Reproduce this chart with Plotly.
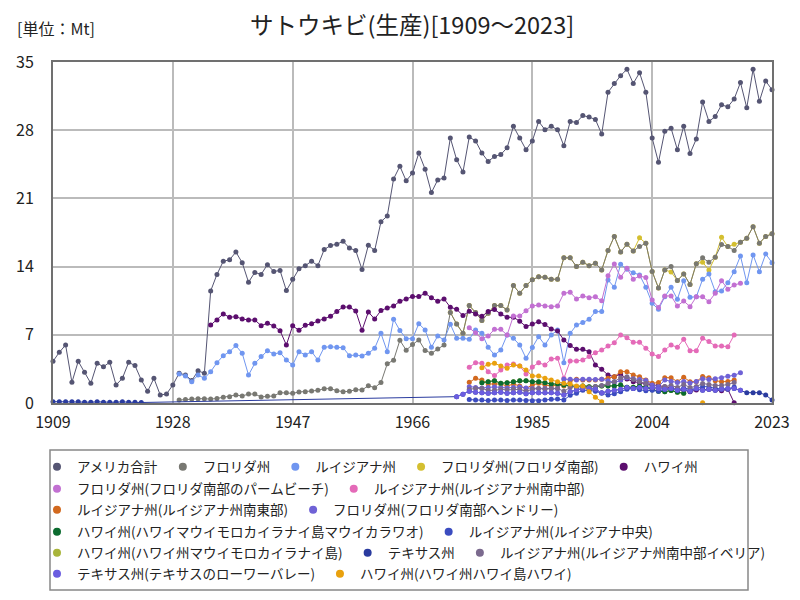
import plotly.graph_objects as go

# ---------------- data (Mt) ----------------
total_start = 1909
total = [4.28, 5.2, 5.96, 2.12, 4.28, 3.15, 2.02, 4.08, 3.73, 4.18,
         1.85, 2.53, 4.18, 3.84, 2.36, 1.2, 2.53, 0.82, 0.92, 1.85,
         3.05, 2.88, 2.3, 3.3, 3.05, 11.5, 13.2, 14.55, 14.7, 15.5,
         14.4, 12.4, 13.4, 13.2, 14.2, 13.5, 13.6, 11.54, 12.7, 13.77,
         14.1, 14.55, 14.1, 15.75, 16.16, 16.3, 16.6, 15.9, 15.65, 13.7,
         16.2, 15.65, 18.6, 19.2, 23.0, 24.3, 22.8, 23.6, 25.65, 24.0,
         21.6, 22.9, 23.1, 27.2, 24.97, 23.7, 27.3, 26.9, 25.65, 24.8,
         25.3, 25.5, 26.2, 28.4, 27.2, 26.0, 26.9, 28.9, 28.05, 28.4,
         28.05, 26.4, 28.9, 28.8, 29.5, 29.35, 29.1, 27.6, 31.9, 32.8,
         33.6, 34.25, 32.8, 33.9, 31.9, 27.2, 24.7, 27.9, 28.2, 26.0,
         28.4, 25.6, 27.1, 30.9, 28.9, 29.4, 30.6, 30.4, 31.2, 32.9,
         30.3, 34.25, 30.96, 33.05, 32.15]

florida_start = 1929
florida = [0.3, 0.37, 0.4, 0.44, 0.44, 0.4, 0.47, 0.58, 0.65, 0.82,
           0.72, 0.92, 0.92, 0.62, 0.68, 0.72, 1.06, 1.06, 0.99, 1.13,
           1.16, 1.23, 1.3, 1.47, 1.47, 1.27, 1.16, 1.2, 1.37, 1.33,
           1.78, 1.57, 2.1, 4.03, 4.4, 6.43, 5.42, 6.0, 6.47, 5.4,
           5.1, 5.55, 5.96, 9.3, 8.1, 7.16, 10.0, 9.3, 8.46, 9.2,
           10.0, 10.0, 9.55, 12.05, 11.27, 12.05, 12.65, 12.95, 12.9, 12.7,
           12.7, 14.9, 14.9, 14.0, 14.45, 14.1, 14.35, 13.66, 15.65, 17.1,
           15.5, 16.3, 15.6, 16.06, 16.4, 13.5, 11.8, 13.66, 14.0, 12.57,
           13.25, 12.16, 14.3, 14.9, 14.45, 14.97, 16.27, 16.06, 15.65, 16.5,
           16.9, 18.1, 16.4, 17.1, 17.36]

louisiana_start = 1929
louisiana = [2.98, 2.77, 2.19, 2.87, 2.53, 3.22, 4.14, 4.86, 5.27, 5.89,
             5.1, 2.87, 4.07, 4.76, 5.37, 5.03, 5.17, 4.41, 3.9, 5.27,
             4.93, 5.27, 4.41, 5.72, 5.78, 5.72, 5.68, 4.86, 4.93, 4.83,
             5.1, 5.61, 7.15, 5.27, 8.59, 7.45, 6.6, 6.6, 8.14, 7.5,
             5.72, 6.88, 6.47, 8.08, 6.64, 6.64, 6.54, 7.5, 7.15, 5.72,
             4.93, 5.44, 6.98, 6.64, 5.95, 4.59, 5.7, 6.81, 5.95, 6.98,
             7.5, 4.14, 7.15, 8.0, 8.25, 8.59, 9.38, 9.38, 12.63, 11.87,
             14.23, 13.72, 13.38, 13.14, 11.87, 10.23, 9.62, 10.9, 11.87, 10.65,
             12.56, 10.85, 10.9, 12.7, 13.24, 11.43, 11.5, 12.35, 13.48, 15.09,
             12.35, 15.2, 13.48, 15.3, 14.4]

fl_south_start = 1972
fl_south = [9.3, 8.1, 7.16, 10.0, 9.3, 8.46, 9.2,
            10.0, 10.0, 9.55, 12.05, 11.27, 12.05, 12.65, 12.95, 12.9, 12.7,
            12.7, 14.9, 14.9, 14.0, 14.45, 14.1, 14.35, 13.66, 15.65, 17.1,
            15.5, 16.3, 15.6, 16.95, 16.4, 13.5, 11.8, 13.66, 13.45, 12.57,
            13.25, 12.16, 14.3, 14.45, 13.65, 14.97, 17.0, 16.06, 16.3, 16.5,
            16.9, 18.1, 16.4, 17.1, 17.36]

hawaii_start = 1934
hawaii = [8.0, 8.52, 9.14, 8.8, 8.86, 8.62, 8.52, 8.52, 7.94, 8.18,
          7.9, 7.42, 5.95, 7.92, 7.46, 7.97, 8.14, 8.41, 8.62, 8.9,
          9.4, 9.85, 9.85, 9.45, 7.46, 9.34, 8.62, 9.5, 9.76, 9.95,
          10.45, 10.68, 10.92, 10.92, 11.27, 10.79, 10.45, 10.68, 9.83, 9.62,
          8.97, 9.42, 9.14, 8.9, 9.38, 9.59, 9.14, 8.8, 8.8, 8.4,
          7.84, 8.1, 8.35, 8.06, 7.6, 7.39, 6.47, 5.89, 5.51, 5.51,
          5.27, 3.9, 3.46, 2.87, 2.7, 2.98, 2.46, 2.19, 2.09, 1.95,
          1.9, 1.8, 1.68, 1.57, 1.33, 1.33, 1.16, 1.33, 1.4, 1.4,
          1.33, 1.27, 1.4, 0.03]

palm_beach_start = 1975
palm_beach = [7.73, 7.2, 6.6, 6.88, 7.56, 7.56, 6.98, 8.93, 8.93, 9.48,
              9.96, 10.06, 9.96, 9.89, 9.96, 11.26, 11.37, 10.68, 10.99, 10.81,
              10.9, 10.5, 13.07, 14.27, 12.9, 13.83, 12.7, 13.04, 12.87, 10.57,
              9.8, 10.99, 10.99, 9.96, 10.47, 9.89, 10.9, 10.9, 10.4, 11.26,
              12.56, 11.67, 12.11, 12.29]

la_south_central_start = 1975
la_south_central = [3.66, 4.14, 4.07, 3.22, 2.81, 3.39, 3.9, 4.0, 3.8, 2.98,
                    3.7, 4.14, 3.9, 4.52, 4.59, 2.53, 4.31, 4.31, 4.41, 4.76,
                    5.17, 5.44, 5.85, 6.19, 6.98, 6.71, 6.23, 6.23, 5.61, 5.03,
                    4.76, 5.44, 5.95, 5.72, 6.54, 5.37, 5.37, 6.64, 6.3, 5.85,
                    5.85, 5.78, 6.98]

la_south_east_start = 1975
la_south_east = [2.12, 2.53, 2.36, 1.95, 1.95, 1.95, 1.75, 1.95, 1.75, 1.5,
                 1.85, 2.02, 1.85, 1.75, 1.85, 1.75, 2.29, 2.43, 2.36, 2.36,
                 2.36, 2.43, 2.53, 2.7, 3.22, 3.22, 2.87, 2.7, 2.36, 2.02,
                 2.1, 2.6, 2.6, 2.19, 2.65, 2.19, 2.19, 2.72, 2.6, 2.29,
                 2.19, 2.2, 2.36]

hendry_start = 1975
hendry = [1.68, 1.6, 1.55, 1.6, 1.65, 1.6, 1.55, 1.6, 1.65, 1.55,
          1.5, 1.5, 1.5, 1.45, 1.45, 2.43, 2.43, 2.36, 2.43, 2.43,
          2.4, 2.43, 2.29, 2.1, 2.3, 2.6, 2.5, 2.4, 2.3, 1.85,
          1.68, 2.36, 2.2, 2.1, 2.2, 2.05, 2.2, 2.5, 2.4, 2.5,
          2.6, 2.75, 2.85, 3.1]

maui_kahului_start = 1977
maui_kahului = [2.09, 2.19, 2.29, 2.02, 2.09, 2.19, 2.29, 2.29, 2.19, 2.19,
                2.09, 1.95, 1.95, 1.85, 1.75, 1.68, 1.75, 1.68, 1.68, 1.75,
                1.75, 1.75, 1.85, 1.61, 1.61, 1.75, 1.61, 1.37, 1.2, 1.16,
                1.28, 1.1, 1.0]

la_central_start = 1975
la_central = [0.35, 0.3, 0.3, 0.25, 0.3, 0.3, 0.25, 0.3, 0.3, 0.25,
              0.24, 0.24, 0.3, 0.38, 0.4, 0.3, 0.8, 1.0, 1.3, 1.3,
              1.2, 1.0, 0.82, 0.95, 1.16, 1.4, 1.5, 1.35, 1.25, 1.3,
              1.2, 1.4, 1.5, 1.35, 1.55, 1.4, 1.45, 1.7, 1.65, 1.5,
              1.45, 1.4, 1.65]

maui_start = 1977
maui = [2.09, 2.19, 2.29, 2.02, 2.09, 2.19, 2.29, 2.29, 2.19, 2.19,
        2.09, 1.95, 1.95, 1.85, 1.75, 1.68, 1.75, 1.68, 1.68, 1.75,
        1.75, 1.75, 1.85, 1.61, 1.61, 1.75, 1.61, 1.37, 1.2, 1.16,
        1.28, 1.1, 1.0]

texas_years = [1909, 1910, 1911, 1912, 1913, 1914, 1915, 1916, 1917, 1918,
               1919, 1920, 1921, 1922, 1923] + list(range(1973, 2024))
texas = [0.14, 0.12, 0.14, 0.14, 0.12, 0.08, 0.08, 0.12, 0.08, 0.08,
         0.08, 0.12, 0.08, 0.08, 0.05,
         0.65, 0.9,
         1.2, 1.1, 1.05, 1.0, 1.05, 1.1, 1.0, 1.05, 1.1, 0.95,
         1.06, 1.06, 1.06, 1.06, 1.0, 0.82,
         1.16, 1.33, 1.5, 1.5, 1.4, 1.06, 1.2, 1.3, 1.4, 1.6,
         1.5, 1.6, 1.5, 1.6, 1.5, 1.4, 1.5, 1.3, 1.4, 1.2,
         1.5, 1.3, 1.4, 1.3, 1.4, 1.5, 1.5, 1.3, 1.06, 1.06,
         1.06, 0.82, 0.31]

iberia_start = 1975
iberia = [1.4, 1.5, 1.5, 1.3, 1.3, 1.4, 1.35, 1.4, 1.4, 1.2,
          1.4, 1.5, 1.4, 1.5, 1.5, 1.2, 1.6, 1.7, 1.6, 1.6,
          1.7, 1.8, 2.0, 2.2, 2.6, 2.7, 2.4, 2.2, 2.0, 1.6,
          1.5, 1.7, 1.8, 1.6, 1.9, 1.6, 1.7, 2.0, 1.9, 1.8,
          1.8, 1.9, 2.1]

lower_valley_start = 1973
lower_valley = [0.65, 0.9,
                1.2, 1.1, 1.05, 1.0, 1.05, 1.1, 1.0, 1.05, 1.1, 0.95,
                1.06, 1.06, 1.06, 1.06, 1.0, 0.82,
                1.16, 1.33, 1.5, 1.5, 1.4, 1.06, 1.2, 1.3, 1.4, 1.6,
                1.5, 1.6, 1.5, 1.6, 1.5, 1.4, 1.5, 1.3, 1.4, 1.2,
                1.5, 1.3, 1.4, 1.3, 1.4, 1.5, 1.5, 1.3]

# None = no data (line break)
hawaii_island_years = list(range(1977, 1997)) + [2004, 2012]
hawaii_island = [3.63, 3.97, 4.07, 3.8, 3.56, 3.9, 3.8, 3.39, 2.77, 2.77,
                 2.53, 2.36, 2.19, 2.02, 1.95, 1.75, 1.75, 1.16, 0.58, 0.14,
                 None, 0.03]

x_ticks = [1909, 1928, 1947, 1966, 1985, 2004, 2023]
y_ticks = [0, 7, 14, 21, 28, 35]


def yrs(start, vals):
    return list(range(start, start + len(vals)))


# name, x, y, color, legend row
series = [
    ("アメリカ合計", yrs(total_start, total), total, "#555573", 1),
    ("フロリダ州", yrs(florida_start, florida), florida, "#787872", 1),
    ("ルイジアナ州", yrs(louisiana_start, louisiana), louisiana, "#7096f0", 1),
    ("フロリダ州(フロリダ南部)", yrs(fl_south_start, fl_south), fl_south, "#d4bf30", 1),
    ("ハワイ州", yrs(hawaii_start, hawaii), hawaii, "#5c0e6e", 1),
    ("フロリダ州(フロリダ南部のパームビーチ)", yrs(palm_beach_start, palm_beach), palm_beach, "#c270d2", 2),
    ("ルイジアナ州(ルイジアナ州南中部)", yrs(la_south_central_start, la_south_central), la_south_central, "#e46ab8", 2),
    ("ルイジアナ州(ルイジアナ州南東部)", yrs(la_south_east_start, la_south_east), la_south_east, "#d2691e", 3),
    ("フロリダ州(フロリダ南部ヘンドリー)", yrs(hendry_start, hendry), hendry, "#6f62d6", 3),
    ("ハワイ州(ハワイマウイモロカイラナイ島マウイカラワオ)", yrs(maui_kahului_start, maui_kahului), maui_kahului, "#0b6b2f", 4),
    ("ルイジアナ州(ルイジアナ中央)", yrs(la_central_start, la_central), la_central, "#3b4cc0", 4),
    ("ハワイ州(ハワイ州マウイモロカイラナイ島)", yrs(maui_start, maui), maui, "#a9b53b", 5),
    ("テキサス州", texas_years, texas, "#2a3b9f", 5),
    ("ルイジアナ州(ルイジアナ州南中部イベリア)", yrs(iberia_start, iberia), iberia, "#7b6a8e", 5),
    ("テキサス州(テキサスのローワーバレー)", yrs(lower_valley_start, lower_valley), lower_valley, "#6b5de0", 6),
    ("ハワイ州(ハワイ州ハワイ島ハワイ)", hawaii_island_years, hawaii_island, "#e9a10e", 6),
]

# drawing order (bottom first); Florida south under Florida, Maui under Maui-Kahului
draw_order = [0, 3, 1, 2, 4, 5, 6, 7, 8, 11, 9, 10, 12, 13, 14, 15]

FONT = "Noto Sans CJK JP, Noto Sans, sans-serif"

fig = go.Figure()
for i in draw_order:
    name, x, y, color, row = series[i]
    fig.add_trace(go.Scatter(
        x=x, y=y, mode="lines+markers", name=name, legendgroup=name,
        showlegend=False, cliponaxis=False, connectgaps=False,
        line=dict(color=color, width=1),
        marker=dict(color=color, size=5),
    ))

# legend entries (dot only), one legend per row
for i, (name, x, y, color, row) in enumerate(series):
    fig.add_trace(go.Scatter(
        x=[None], y=[None], mode="markers", name=name, legendgroup=name,
        showlegend=True, legend="legend" if row == 1 else f"legend{row}",
        marker=dict(color=color, size=8),
    ))

# page body has an 8px margin: layout coords = screen coords - 8
OFF = 8
L, R, T, B = 53 - OFF, 772 - OFF, 62 - OFF, 403 - OFF
W, H = R - L, B - T


def px_x(p):  # screen px -> paper
    return (p - OFF - L) / W


def px_y(p):
    return (B - (p - OFF)) / H


row_y = [467, 489, 510, 532, 553, 574]
legends = {}
for r in range(1, 7):
    key = "legend" if r == 1 else f"legend{r}"
    legends[key] = dict(
        orientation="h", x=px_x(37), xanchor="left",
        y=px_y(row_y[r - 1]), yanchor="middle",
        bgcolor="rgba(0,0,0,0)", borderwidth=0,
        font=dict(family=FONT, size=13.5, color="#222"),
        itemwidth=30, tracegroupgap=0,
    )

fig.update_layout(
    width=800, height=600,
    margin=dict(l=L, r=800 - R, t=T, b=600 - B, autoexpand=False),
    paper_bgcolor="white", plot_bgcolor="white",
    font=dict(family=FONT, color="#222"),
    showlegend=True,
    **legends,
    annotations=[
        dict(text="サトウキビ(生産)[1909～2023]", x=px_x(412), y=px_y(24),
             xref="paper", yref="paper", xanchor="center", yanchor="middle",
             showarrow=False, font=dict(family=FONT, size=23.5, color="#222")),
        dict(text="[単位：Mt]", x=px_x(15), y=px_y(28),
             xref="paper", yref="paper", xanchor="left", yanchor="middle",
             showarrow=False, font=dict(family=FONT, size=16, color="#222")),
    ],
    shapes=[
        dict(type="rect", xref="paper", yref="paper",
             x0=px_x(50), x1=px_x(748), y0=px_y(590), y1=px_y(450),
             line=dict(color="#888888", width=1.5), fillcolor="rgba(0,0,0,0)"),
    ],
)

fig.update_xaxes(
    range=[1909, 2023], tickmode="array", tickvals=x_ticks,
    ticktext=[str(v) for v in x_ticks],
    showgrid=True, gridcolor="#bbbbbb", gridwidth=1.5,
    showline=True, linecolor="#707070", linewidth=2, mirror=True,
    ticks="", ticklabelstandoff=4, zeroline=False,
    tickfont=dict(family=FONT, size=16, color="#222"),
)
fig.update_yaxes(
    range=[0, 35], tickmode="array", tickvals=y_ticks,
    showgrid=True, gridcolor="#bbbbbb", gridwidth=1.5,
    showline=True, linecolor="#707070", linewidth=2, mirror=True,
    ticks="", ticklabelstandoff=14, zeroline=False,
    tickfont=dict(family=FONT, size=16, color="#222"),
)

fig.write_html("out.html")
